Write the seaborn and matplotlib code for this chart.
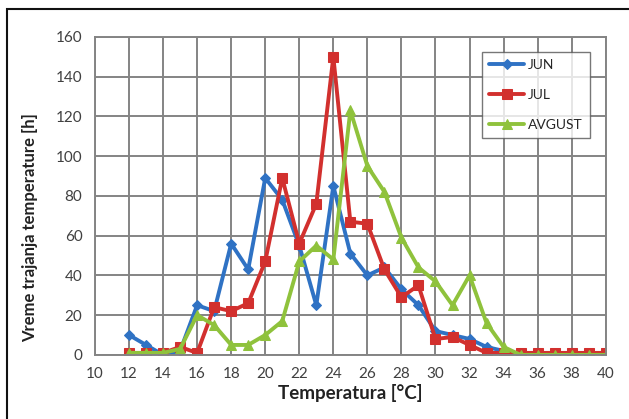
import pandas as pd
import matplotlib.pyplot as plt
import seaborn as sns
from matplotlib.patches import Rectangle

# temperature steps (degC) and hours per month
temps = list(range(12, 41))
jun = [10, 5, 0, 2, 25, 22, 56, 43, 89, 78, 55, 25, 85, 51, 40, 44, 33, 25, 12, 10, 8, 4, 2,
       0, 0, 0, 0, 0, 0]
jul = [1, 1, 1, 4, 1, 24, 22, 26, 47, 89, 56, 76, 150, 67, 66, 43, 29, 35, 8, 9, 5, 1, 1,
       1, 1, 1, 1, 1, 1]
avgust = [1, 1, 1, 3, 20, 15, 5, 5, 10, 17, 47, 55, 48, 123, 95, 82, 59, 44, 37, 25, 40, 16, 4,
          0, 0, 0, 0, 0, 0]
months = ["JUN", "JUL", "AVGUST"]
colors = ["#2f72c4", "#d2302e", "#8fc23c"]
markers = ["D", "s", "^"]
msizes = [5, 7, 7]

df = pd.DataFrame({"temp": temps, "JUN": jun, "JUL": jul, "AVGUST": avgust})
long = df.melt(id_vars="temp", var_name="mesec", value_name="sati")

sns.set_style("white")
plt.rcParams["font.family"] = ["Lato", "DejaVu Sans"]

fig = plt.figure(figsize=(6.29, 4.19), dpi=100)
ax = fig.add_axes([0.151, 0.153, 0.812, 0.759])

for m, c, mk, ms in zip(months, colors, markers, msizes):
    sns.lineplot(data=long[long["mesec"] == m], x="temp", y="sati", ax=ax, color=c,
                 marker=mk, markersize=ms, markeredgecolor=c, linewidth=2.8, label=m)

ax.set_xlim(10, 40)
ax.set_ylim(0, 160)
ax.set_xticks(range(10, 41, 2))
ax.set_yticks(range(0, 161, 20))
ax.grid(True, color="#848484", linewidth=1.4)
for s in ax.spines.values():
    s.set_color("#848484")
    s.set_linewidth(1.4)
ax.tick_params(axis="both", labelsize=11, labelcolor="#404040", length=4, width=1,
               direction="out", color="#848484", pad=5)
ax.set_xlabel("Temperatura [°C]", fontsize=13.5, fontweight="bold", color="#222222", labelpad=2)
ax.set_ylabel("Vreme trajanja temperature [h]", fontsize=12, fontweight="bold",
              color="#222222")
ax.yaxis.set_label_coords(-0.112, 0.40)

leg = ax.legend(loc="upper right", bbox_to_anchor=(0.969, 0.953), fontsize=10,
                frameon=True, fancybox=False, edgecolor="#555555", handlelength=2.5,
                labelspacing=1.3, borderpad=0.5, handletextpad=0.3, borderaxespad=0)
leg.get_frame().set_linewidth(1.0)

# outer frame of the chart
fig.patches.append(Rectangle((0.011, -0.1), 1.2, 1.078, transform=fig.transFigure,
                             fill=False, edgecolor="#111111", linewidth=1.5))

fig.savefig("out.png", dpi=100)
